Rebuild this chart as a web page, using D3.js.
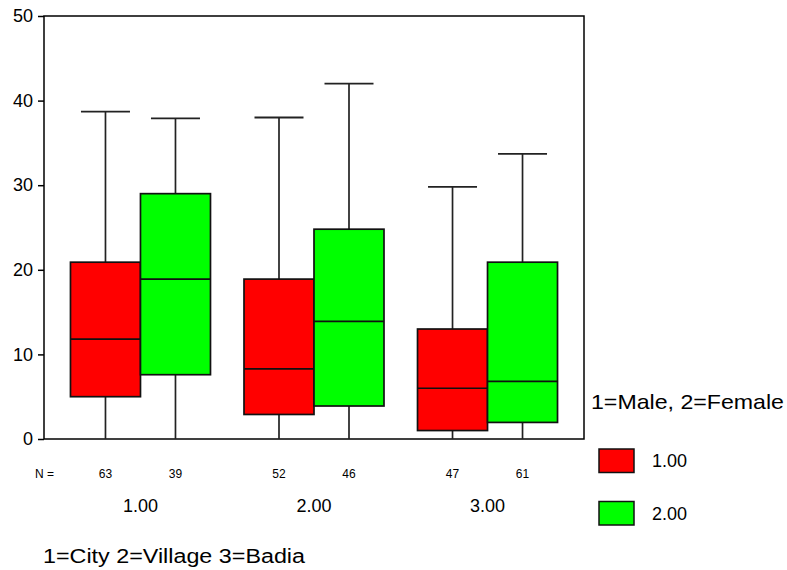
<!DOCTYPE html>
<html>
<head>
<meta charset="utf-8">
<script src="https://cdn.jsdelivr.net/npm/d3@7"></script>
<style>
  body { margin: 0; background: #fff; }
  text { font-family: "Liberation Sans", Arial, sans-serif; fill: #000; }
</style>
</head>
<body>
<div id="chart"></div>
<script>
// groups on the x axis and the two series (sex)
var groups = ["1.00", "2.00", "3.00"];
var series = ["1.00", "2.00"];
var seriesColors = ["#ff0000", "#00ff00"];
var yTicks = [0, 10, 20, 30, 40, 50];

// box stats per group, one entry per series: min, q1, median, q3, max
var mins    = [[0, 0], [0, 0], [0, 0]];
var q1s     = [[5.0, 7.6], [2.9, 3.9], [1.0, 1.96]];
var medians = [[11.8, 18.9], [8.3, 13.9], [6.0, 6.8]];
var q3s     = [[20.9, 29.0], [18.9, 24.8], [13.0, 20.9]];
var maxs    = [[38.7, 37.9], [38.0, 42.0], [29.8, 33.7]];
var counts  = [[63, 39], [52, 46], [47, 61]];

var legendTitle = "1=Male, 2=Female";
var xTitle = "1=City 2=Village 3=Badia";

var W = 787, H = 570;
var margin = {top: 16, left: 44, right: 203, bottom: 131};
var width = W - margin.left - margin.right,
    height = H - margin.top - margin.bottom;

var svg = d3.select("#chart").append("svg")
    .attr("width", W)
    .attr("height", H);

var g = svg.append("g")
    .attr("transform", "translate(" + margin.left + "," + margin.top + ")");

var yScale = d3.scaleLinear().domain([0, 50]).range([height, 0]);

var xScale = d3.scaleBand().domain(groups).range([0, width])
    .paddingInner(0).paddingOuter(0.056);

var boxW = 70;
var xSub = d3.scaleBand().domain(series)
    .range([xScale.bandwidth() / 2 - boxW, xScale.bandwidth() / 2 + boxW]);

// frame
g.append("rect")
    .attr("x", 0).attr("y", 0)
    .attr("width", width).attr("height", height)
    .attr("fill", "none")
    .attr("stroke", "#000")
    .attr("stroke-width", 1.5);

// y axis
var yAxis = g.append("g")
    .call(d3.axisLeft(yScale).tickValues(yTicks).tickSize(6).tickPadding(5));
yAxis.select(".domain").remove();
yAxis.selectAll("line").attr("stroke", "#000").attr("stroke-width", 1.5);
yAxis.selectAll("text")
    .style("font-size", "18px")
    .attr("fill", "#222");

// flatten the stats into one row per box
var boxes = [];
groups.forEach(function(grp, gi) {
    series.forEach(function(s, si) {
        boxes.push({
            group: grp, series: s, si: si,
            min: mins[gi][si], q1: q1s[gi][si], med: medians[gi][si],
            q3: q3s[gi][si], max: maxs[gi][si], n: counts[gi][si]
        });
    });
});

var box = g.selectAll(".box")
    .data(boxes)
    .enter().append("g")
    .attr("class", "box")
    .attr("transform", function(d) {
        return "translate(" + (xScale(d.group) + xSub(d.series)) + ",0)";
    });

var bw = xSub.bandwidth();
var capW = bw * 0.7;

// whiskers
box.append("line")
    .attr("x1", bw / 2).attr("x2", bw / 2)
    .attr("y1", function(d) { return yScale(d.max); })
    .attr("y2", function(d) { return yScale(d.q3); })
    .attr("stroke", "#222").attr("stroke-width", 1.7);
box.append("line")
    .attr("x1", bw / 2).attr("x2", bw / 2)
    .attr("y1", function(d) { return yScale(d.q1); })
    .attr("y2", function(d) { return yScale(d.min); })
    .attr("stroke", "#222").attr("stroke-width", 1.7);
box.append("line")
    .attr("x1", (bw - capW) / 2).attr("x2", (bw + capW) / 2)
    .attr("y1", function(d) { return yScale(d.max); })
    .attr("y2", function(d) { return yScale(d.max); })
    .attr("stroke", "#222").attr("stroke-width", 1.8);

// boxes
box.append("rect")
    .attr("x", 0)
    .attr("width", bw)
    .attr("y", function(d) { return yScale(d.q3); })
    .attr("height", function(d) { return yScale(d.q1) - yScale(d.q3); })
    .attr("fill", function(d) { return seriesColors[d.si]; })
    .attr("stroke", "#111").attr("stroke-width", 1.7);

// medians
box.append("line")
    .attr("x1", 0).attr("x2", bw)
    .attr("y1", function(d) { return yScale(d.med); })
    .attr("y2", function(d) { return yScale(d.med); })
    .attr("stroke", "#111").attr("stroke-width", 1.7);

// N = counts
g.append("text")
    .attr("x", -9).attr("y", height + 39)
    .style("font-size", "12px")
    .attr("fill", "#222")
    .text("N =");
box.append("text")
    .attr("x", bw / 2).attr("y", height + 39)
    .attr("text-anchor", "middle")
    .style("font-size", "12px")
    .attr("fill", "#222")
    .text(function(d) { return d.n; });

// group labels
g.selectAll(".glabel")
    .data(groups)
    .enter().append("text")
    .attr("class", "glabel")
    .attr("x", function(d) { return xScale(d) + xScale.bandwidth() / 2; })
    .attr("y", height + 73)
    .attr("text-anchor", "middle")
    .style("font-size", "18px")
    .attr("fill", "#222")
    .text(function(d) { return d; });

// x title
svg.append("text")
    .attr("x", 43).attr("y", 563)
    .style("font-size", "20px")
    .attr("fill", "#222")
    .attr("textLength", 262)
    .attr("lengthAdjust", "spacingAndGlyphs")
    .text(xTitle);

// legend
var legend = svg.append("g").attr("transform", "translate(591,0)");
legend.append("text")
    .attr("x", 0).attr("y", 409)
    .style("font-size", "21px")
    .attr("fill", "#222")
    .attr("textLength", 193)
    .attr("lengthAdjust", "spacingAndGlyphs")
    .text(legendTitle);

var item = legend.selectAll(".item")
    .data(series)
    .enter().append("g")
    .attr("class", "item")
    .attr("transform", function(d, i) { return "translate(0," + (449 + i * 52.5) + ")"; });
item.append("rect")
    .attr("x", 8).attr("y", 0)
    .attr("width", 35).attr("height", 23.5)
    .attr("fill", function(d, i) { return seriesColors[i]; })
    .attr("stroke", "#111").attr("stroke-width", 1.5);
item.append("text")
    .attr("x", 61).attr("y", 18)
    .style("font-size", "18px")
    .attr("fill", "#222")
    .text(function(d) { return d; });
</script>
</body>
</html>
